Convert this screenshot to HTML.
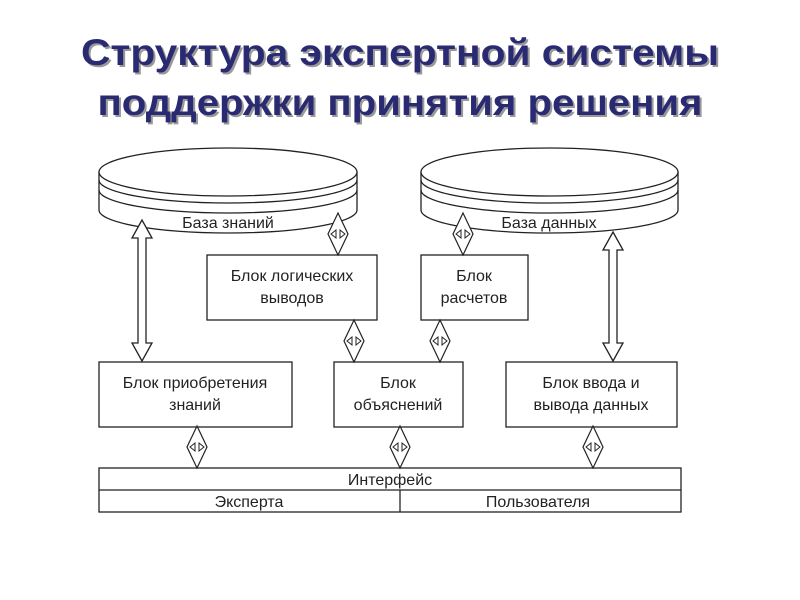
<!DOCTYPE html>
<html><head><meta charset="utf-8"><style>
html,body{margin:0;padding:0;background:#fff;width:800px;height:600px;overflow:hidden}
</style></head><body>
<svg width="800" height="600" viewBox="0 0 800 600" xmlns="http://www.w3.org/2000/svg" font-family="Liberation Sans, sans-serif">
<defs>
<g id="dia">
<path d="M0,-21 L10,0 L0,21 L-10,0 Z" fill="#fff" stroke="#222" stroke-width="1.2"/>
<path d="M-2,-4 L-7,0 L-2,4 Z M2,-4 L7,0 L2,4 Z" fill="#fff" stroke="#222" stroke-width="1"/>
</g>
</defs>
<g font-weight="bold" font-size="37">
<text x="402" y="67" text-anchor="middle" fill="#999" textLength="638" lengthAdjust="spacingAndGlyphs">Структура экспертной системы</text>
<text x="400" y="65" text-anchor="middle" fill="#2a2a72" textLength="638" lengthAdjust="spacingAndGlyphs">Структура экспертной системы</text>
<text x="402" y="117" text-anchor="middle" fill="#999" textLength="605" lengthAdjust="spacingAndGlyphs">поддержки принятия решения</text>
<text x="400" y="115" text-anchor="middle" fill="#2a2a72" textLength="605" lengthAdjust="spacingAndGlyphs">поддержки принятия решения</text>
</g>
<g fill="#fff" stroke="#222" stroke-width="1.3">
<path d="M99,172 L99,210 A129,23 0 0 0 357,210 L357,172"/>
<ellipse cx="228" cy="172" rx="129" ry="24"/>
<path d="M99,180 A129,23 0 0 0 357,180" fill="none"/>
<path d="M99,190 A129,23 0 0 0 357,190" fill="none"/>
<path d="M421,172 L421,210 A128.5,23 0 0 0 678,210 L678,172"/>
<ellipse cx="549.5" cy="172" rx="128.5" ry="24"/>
<path d="M421,180 A128.5,23 0 0 0 678,180" fill="none"/>
<path d="M421,190 A128.5,23 0 0 0 678,190" fill="none"/>
<rect x="207" y="255" width="170" height="65"/>
<rect x="421" y="255" width="107" height="65"/>
<rect x="99" y="362" width="193" height="65"/>
<rect x="334" y="362" width="129" height="65"/>
<rect x="506" y="362" width="171" height="65"/>
<rect x="99" y="468" width="582" height="44"/>
<line x1="99" y1="490" x2="681" y2="490"/>
<line x1="400" y1="490" x2="400" y2="512"/>
<path d="M609,343 L609,250 L603,250 L613,232 L623,250 L617,250 L617,343 L623,343 L613,361 L603,343 Z"/>
<path d="M138,343 L138,238 L132,238 L142,220 L152,238 L146,238 L146,343 L152,343 L142,361 L132,343 Z"/>
</g>
<use href="#dia" x="338" y="234"/>
<use href="#dia" x="463" y="234"/>
<use href="#dia" x="354" y="341"/>
<use href="#dia" x="440" y="341"/>
<use href="#dia" x="197" y="447"/>
<use href="#dia" x="400" y="447"/>
<use href="#dia" x="593" y="447"/>
<g font-size="16" fill="#222" text-anchor="middle">
<text x="228" y="228">База знаний</text>
<text x="549" y="228">База данных</text>
<text x="292" y="281">Блок логических</text>
<text x="292" y="303">выводов</text>
<text x="474" y="281">Блок</text>
<text x="474" y="303">расчетов</text>
<text x="195" y="388">Блок приобретения</text>
<text x="195" y="410">знаний</text>
<text x="398" y="388">Блок</text>
<text x="398" y="410">объяснений</text>
<text x="591" y="388">Блок ввода и</text>
<text x="591" y="410">вывода данных</text>
<text x="390" y="485">Интерфейс</text>
<text x="249" y="507">Эксперта</text>
<text x="538" y="507">Пользователя</text>
</g>
</svg>
</body></html>
